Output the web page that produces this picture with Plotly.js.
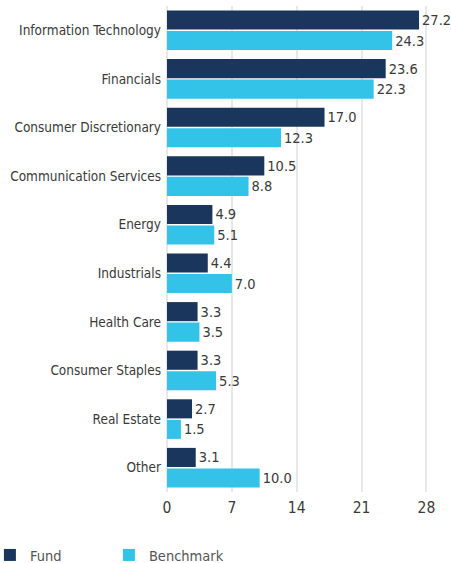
<!DOCTYPE html>
<html><head><meta charset="utf-8">
<script src="https://cdn.plot.ly/plotly-3.0.1.min.js"></script>
<style>html,body{margin:0;padding:0;background:#fff;}#chart{width:451px;height:563px;}</style>
</head><body><div id="chart"></div>
<script>
const categories = ["Information Technology","Financials","Consumer Discretionary","Communication Services","Energy","Industrials","Health Care","Consumer Staples","Real Estate","Other"];
const fundValues = [27.2,23.6,17.0,10.5,4.9,4.4,3.3,3.3,2.7,3.1];
const benchmarkValues = [24.3,22.3,12.3,8.8,5.1,7.0,3.5,5.3,1.5,10.0];
const xTicks = [0,7,14,21,28];
const seriesNames = ["Fund","Benchmark"];

const FONT = '"DejaVu Sans Condensed","Liberation Sans Narrow",sans-serif';
const common = {type:'bar', orientation:'h', y:categories, texttemplate:'%{x:.1f}', textposition:'outside',
  textfont:{family:FONT,size:14.5,color:'#3a3a3a'}, cliponaxis:false, hoverinfo:'skip'};
const data = [
  Object.assign({}, common, {name:seriesNames[0], x:fundValues, marker:{color:'#1b365d'}}),
  Object.assign({}, common, {name:seriesNames[1], x:benchmarkValues, marker:{color:'#33c3e8'}})
];
const layout = {
  width:451, height:563,
  margin:{l:167, r:6, t:6, b:71, autoexpand:false},
  paper_bgcolor:'#fff', plot_bgcolor:'#fff',
  barmode:'group', bargap:0.155, bargroupgap:0.07,
  font:{family:FONT, size:14, color:'#3a3a3a'},
  xaxis:{range:[0,30], tickvals:xTicks, ticktext:xTicks.map(String), showgrid:true, gridcolor:'#e8e8e8', gridwidth:2,
    zeroline:true, zerolinecolor:'#e8e8e8', zerolinewidth:2, showline:false, ticks:'', ticklabelstandoff:4,
    tickfont:{family:FONT,size:15.5,color:'#3a3a3a'}, fixedrange:true},
  yaxis:{autorange:'reversed', showgrid:false, zeroline:false, showline:false, ticks:'', ticklabelstandoff:5,
    tickfont:{family:FONT,size:13.5,color:'#3a3a3a'}},
  showlegend:true,
  legend:{orientation:'h', xref:'paper', yref:'paper', x:-0.637, y:-0.1626, xanchor:'left', yanchor:'bottom',
    entrywidth:74, entrywidthmode:'pixels', itemwidth:30, font:{family:FONT,size:14.5,color:'#555'}, traceorder:'normal'}
};
Plotly.newPlot('chart', data, layout, {displayModeBar:false, staticPlot:true});
</script></body></html>
